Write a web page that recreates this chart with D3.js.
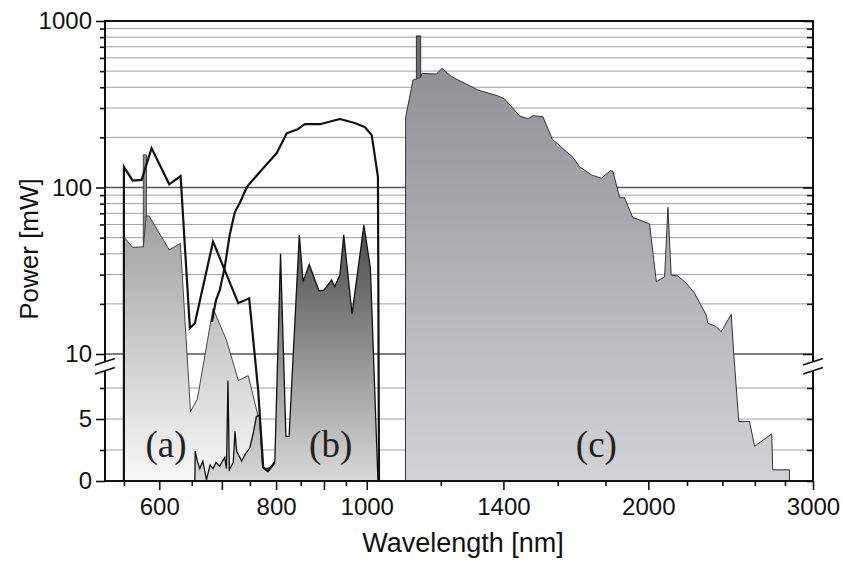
<!DOCTYPE html>
<html><head><meta charset="utf-8">
<script src="https://cdn.jsdelivr.net/npm/d3@7"></script>
<style>body{margin:0;background:#fff}svg{display:block}</style>
</head><body>
<script>
// ---------- data ----------
const xMajorTicks = [600, 800, 1000, 1400, 2000, 3000];
const xLongTicks = [700, 900];
const xMinorTicks = [550, 650, 750, 850, 950, 1200, 1600, 1800, 2200, 2400, 2600, 2800];
const yLogLabelTicks = [10, 100, 1000];
const yLogMinorTicks = [20,30,40,50,60,70,80,90,200,300,400,500,600,700,800,900];
const yLinLabelTicks = [0, 5];
const yLinMinorTicks = [2.5, 7.5];

// (a) light area
const aWl  = [550, 550, 562, 574.5, 577, 581, 585, 615, 632, 648, 659, 685, 708, 729, 747, 766, 769, 772.5, 773.5];
const aPow = [0, 50.5, 43.7, 44, 44, 67.5, 67.5, 42.2, 46.2, 5.6, 6.6, 18.8, 12.1, 8.1, 8.5, 5.1, 5.2, 0.9, 0];
const aBarWl = [576.8, 581.6];
const aBarPow = 157;

// (b) area
const bWl  = [655, 655.5, 659, 663, 668, 674, 680, 685, 690, 696, 705, 708, 710.6, 713, 720, 723, 726, 735, 742, 750, 757, 762, 768, 774, 780, 791, 797.5, 808.8, 819.5, 826, 847, 855, 868, 889, 900, 917, 924, 936, 945, 964.5, 993, 1009, 1028];
const bPow = [0, 2.4, 1.6, 1.0, 1.6, 0.1, 1.3, 1.0, 1.5, 1.2, 1.9, 1.0, 8.1, 0.9, 1.5, 4.0, 2.4, 1.6, 2.2, 2.7, 4.0, 5.2, 5.3, 1.1, 1.0, 1.1, 1.6, 40, 3.6, 3.6, 51.8, 27.2, 34.5, 24.0, 24.2, 27.8, 25.4, 29.8, 51.9, 17.4, 59.5, 32.8, 0];

// (c) area
const cWl  = [1100, 1100.5, 1120.6, 1142, 1145.6, 1187, 1203.5, 1231.6, 1315, 1381, 1404, 1457, 1487, 1506, 1543, 1579, 1661, 1689, 1739, 1781, 1822, 1833, 1864, 1886, 1925, 1950, 2006, 2040, 2082, 2099, 2116, 2151, 2196, 2241, 2307, 2316, 2364, 2393, 2453, 2468, 2499, 2566, 2598, 2710, 2717, 2831, 2831.5];
const cPow = [0, 264, 442, 459, 485, 480, 520, 464, 385, 355, 340, 269, 259, 270, 266, 195, 152, 133, 119, 113.6, 126, 125, 86.9, 86.9, 65.9, 64.5, 60.4, 27.2, 29.1, 76, 29.8, 29.4, 26.6, 23.2, 17.1, 15.3, 14.6, 13.6, 17.3, 10.1, 4.8, 4.8, 2.8, 3.8, 0.9, 0.9, 0];
const cBarWl = [1130, 1142];
const cBarPow = 813;

// outline curves
const curveAWl  = [550, 550, 562, 574.5, 588.8, 615, 632.4, 647, 655, 685, 728.8, 748.7, 765.5, 775, 783.9, 797.5];
const curveAPow = [0, 133, 110, 111, 172, 104.5, 117, 14.3, 15.3, 47.3, 20.2, 21.6, 7.3, 1.1, 0.8, 1.5];
const curveBWl  = [683, 690, 696.5, 705, 713.6, 722.8, 731.6, 744.4, 768.6, 801.3, 821.3, 843.9, 858.6, 891.1, 936, 970.9, 995.2, 1012.3, 1028, 1030.6];
const curveBPow = [15.6, 21.1, 24.2, 33.3, 51.8, 71.3, 80.7, 100.7, 123.9, 161, 212, 224, 240, 240, 258, 244, 230.6, 206.4, 115.7, 0];

const regionLabels = ["(a)", "(b)", "(c)"];
const regionLabelWl = [610, 915, 1760];
const regionLabelPow = [1.9, 1.9, 1.9];

// ---------- layout ----------
const W = 843, H = 564;
const L = 105, R = 813, T = 21, B = 481;
const sans = "'Liberation Sans', Arial, Helvetica, sans-serif";
const serif = "'Liberation Serif', 'Times New Roman', serif";

const x = d3.scaleLog().domain([525, 3000]).range([L, R]);
const yLog = d3.scaleLog().domain([10, 1000]).range([354, T]);
const yLin = d3.scaleLinear().domain([0, 10]).range([B, 357]);
const yv = v => v >= 10 ? yLog(v) : yLin(v);

const svg = d3.select("body").append("svg").attr("width", W).attr("height", H);
const defs = svg.append("defs");
function grad(id, y1, c1, y2, c2) {
  const g = defs.append("linearGradient").attr("id", id)
    .attr("gradientUnits", "userSpaceOnUse").attr("x1", 0).attr("x2", 0).attr("y1", y1).attr("y2", y2);
  g.append("stop").attr("offset", 0).attr("stop-color", c1);
  g.append("stop").attr("offset", 1).attr("stop-color", c2);
}
grad("ga", 150, "#8a8a8a", B, "#f8f8f8");
grad("gb", 232, "#4d4d4d", B, "#d8d8d8");
grad("gc", 35, "#8c8c90", B, "#d2d3d5");

// ---------- grid ----------
const grid = svg.append("g");
const gridMinor = yLogMinorTicks.map(v => yLog(v)).concat(yLinMinorTicks.map(v => yLin(v)), yLinLabelTicks.filter(v => v > 0).map(v => yLin(v)));
grid.selectAll("line.mn").data(gridMinor).join("line")
  .attr("x1", L).attr("x2", R).attr("y1", d => d).attr("y2", d => d)
  .attr("stroke", "#a0a0a0").attr("stroke-width", 1);
grid.selectAll("line.mj").data([yLog(10), yLog(100)]).join("line")
  .attr("x1", L).attr("x2", R).attr("y1", d => d).attr("y2", d => d)
  .attr("stroke", "#555").attr("stroke-width", 1.5);

// ---------- areas ----------
const toPts = (w, p) => w.map((d, i) => [d, p[i]]);
const line = d3.line().x(d => x(d[0])).y(d => yv(d[1]));

// (a) bar + area
svg.append("rect").attr("x", x(aBarWl[0])).attr("width", x(aBarWl[1]) - x(aBarWl[0]))
  .attr("y", yv(aBarPow)).attr("height", B - yv(aBarPow))
  .attr("fill", "#8a8a8a").attr("stroke", "#333").attr("stroke-width", 0.8);
svg.append("path").attr("d", line(toPts(aWl, aPow)) + "Z")
  .attr("fill", "url(#ga)").attr("stroke", "#333").attr("stroke-width", 0.9);

// (b)
svg.append("path").attr("d", line(toPts(bWl, bPow)) + "Z")
  .attr("fill", "url(#gb)").attr("stroke", "#111").attr("stroke-width", 1.3).attr("stroke-linejoin", "miter");

// (c) bar + area
svg.append("rect").attr("x", x(cBarWl[0])).attr("width", x(cBarWl[1]) - x(cBarWl[0]))
  .attr("y", yv(cBarPow)).attr("height", B - yv(cBarPow))
  .attr("fill", "#6e6e72").attr("stroke", "#333").attr("stroke-width", 1);
svg.append("path").attr("d", line(toPts(cWl, cPow)) + "Z")
  .attr("fill", "url(#gc)").attr("stroke", "#333").attr("stroke-width", 1);

// curves
svg.append("path").attr("d", line(toPts(curveAWl, curveAPow)))
  .attr("fill", "none").attr("stroke", "#111").attr("stroke-width", 2.2).attr("stroke-linejoin", "miter");
svg.append("path").attr("d", line(toPts(curveBWl, curveBPow)))
  .attr("fill", "none").attr("stroke", "#111").attr("stroke-width", 2.2).attr("stroke-linejoin", "round");

// region labels
svg.selectAll("text.rl").data(regionLabels).join("text")
  .attr("x", (d, i) => x(regionLabelWl[i])).attr("y", (d, i) => yv(regionLabelPow[i]) + 0)
  .attr("text-anchor", "middle").attr("font-family", serif).attr("font-size", 37).attr("fill", "#222")
  .text(d => d);

// ---------- axes ----------
function styleAxis(g) {
  g.select(".domain").remove();
  g.selectAll(".tick line").attr("stroke", "#111").attr("stroke-width", 1.6);
  g.selectAll(".tick text").attr("font-family", sans).attr("font-size", 24).attr("fill", "#111");
}
svg.append("g").attr("transform", `translate(0,${B})`)
  .call(d3.axisBottom(x).tickValues(xMajorTicks).tickFormat(d3.format("d")).tickSize(9).tickPadding(8)).call(styleAxis);
svg.append("g").attr("transform", `translate(0,${B})`)
  .call(d3.axisBottom(x).tickValues(xLongTicks).tickFormat("").tickSize(9)).call(styleAxis);
svg.append("g").attr("transform", `translate(0,${B})`)
  .call(d3.axisBottom(x).tickValues(xMinorTicks).tickFormat("").tickSize(5)).call(styleAxis);

svg.append("g").attr("transform", `translate(${L},0)`)
  .call(d3.axisLeft(yLog).tickValues(yLogLabelTicks).tickFormat(d3.format("d")).tickSize(9).tickPadding(4)).call(styleAxis);
svg.append("g").attr("transform", `translate(${L},0)`)
  .call(d3.axisLeft(yLog).tickValues(yLogMinorTicks).tickFormat("").tickSize(5)).call(styleAxis);
svg.append("g").attr("transform", `translate(${L},0)`)
  .call(d3.axisLeft(yLin).tickValues(yLinLabelTicks).tickFormat(d3.format("d")).tickSize(9).tickPadding(4)).call(styleAxis);
svg.append("g").attr("transform", `translate(${L},0)`)
  .call(d3.axisLeft(yLin).tickValues(yLinMinorTicks).tickFormat("").tickSize(5)).call(styleAxis);
// right side inward ticks
svg.append("g").attr("transform", `translate(${R},0)`)
  .call(d3.axisLeft(yLog).tickValues(yLogLabelTicks).tickFormat("").tickSize(10)).call(styleAxis);
svg.append("g").attr("transform", `translate(${R},0)`)
  .call(d3.axisLeft(yLog).tickValues(yLogMinorTicks).tickFormat("").tickSize(6)).call(styleAxis);
svg.append("g").attr("transform", `translate(${R},0)`)
  .call(d3.axisLeft(yLin).tickValues(yLinLabelTicks.concat(yLinMinorTicks)).tickFormat("").tickSize(6)).call(styleAxis);

// frame
svg.append("rect").attr("x", L).attr("y", T).attr("width", R - L).attr("height", B - T)
  .attr("fill", "none").attr("stroke", "#111").attr("stroke-width", 2);

// axis breaks
[L, R].forEach(cx => {
  const y1 = 361.7, y2 = 370.7;
  svg.append("path").attr("d", `M${cx-10},${y1+3.3}L${cx+10},${y1-3.3}L${cx+10},${y2-3.3}L${cx-10},${y2+3.3}Z`)
    .attr("fill", "#fff");
  [y1, y2].forEach(yy => svg.append("line").attr("x1", cx - 10).attr("y1", yy + 3.3).attr("x2", cx + 10).attr("y2", yy - 3.3)
    .attr("stroke", "#111").attr("stroke-width", 1.6));
});

// titles
svg.append("text").attr("x", (L + R) / 2 + 4).attr("y", 552).attr("text-anchor", "middle")
  .attr("font-family", sans).attr("font-size", 27).attr("fill", "#111").text("Wavelength [nm]");
svg.append("text").attr("transform", `translate(38,${(T + B) / 2 - 2}) rotate(-90)`).attr("text-anchor", "middle")
  .attr("font-family", sans).attr("font-size", 26).attr("fill", "#111").text("Power [mW]");
</script>
</body></html>
